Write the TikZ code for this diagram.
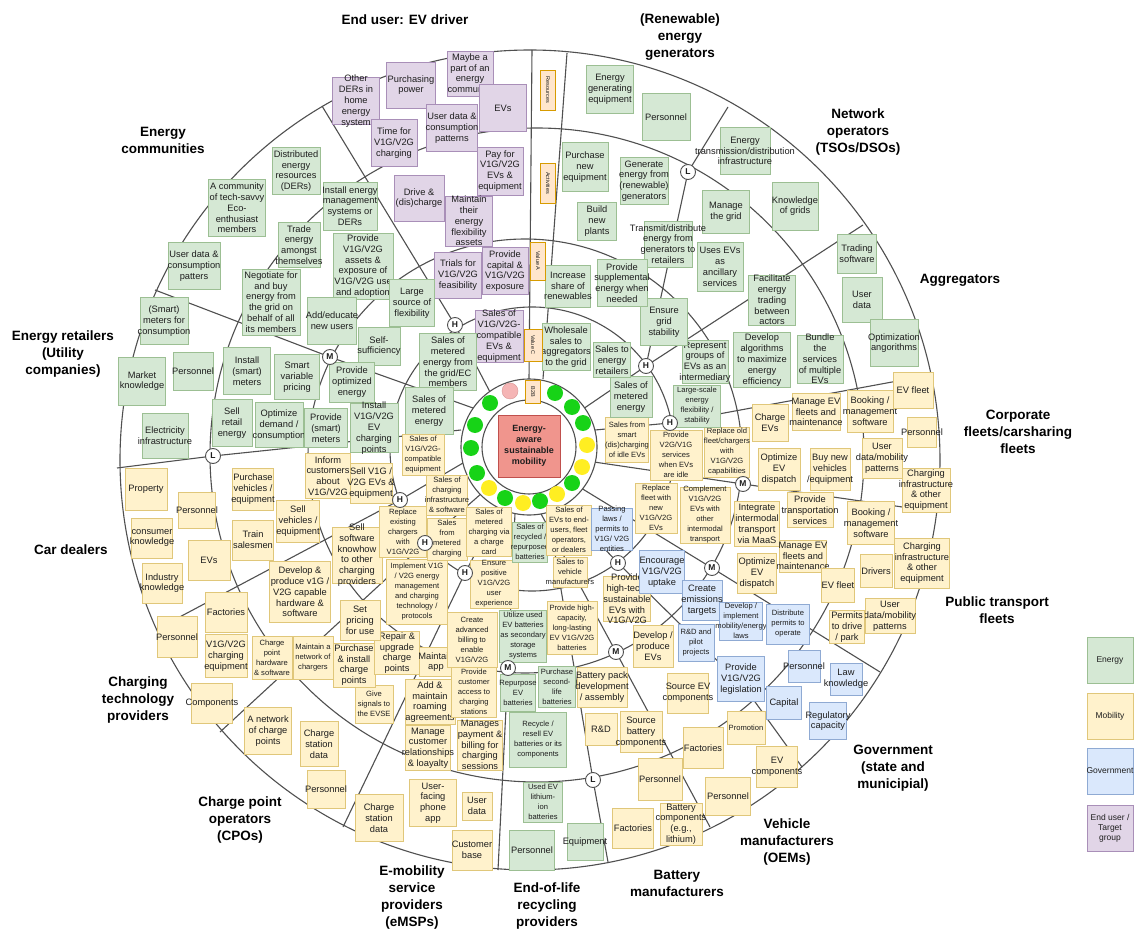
\documentclass[tikz,border=0pt]{standalone}
\usepackage{fontspec}
\setmainfont{Liberation Sans}
\usetikzlibrary{backgrounds}
\definecolor{gF}{HTML}{D5E8D4}\definecolor{gD}{HTML}{9CBF93}
\definecolor{yF}{HTML}{FFF2CC}\definecolor{yD}{HTML}{E0C77A}
\definecolor{bF}{HTML}{DAE8FC}\definecolor{bD}{HTML}{8FAAD3}
\definecolor{pF}{HTML}{E1D5E7}\definecolor{pD}{HTML}{A98FB8}
\definecolor{oF}{HTML}{FFE6CC}\definecolor{oD}{HTML}{D79B00}
\definecolor{rF}{HTML}{F0958D}\definecolor{rD}{HTML}{C0504D}
\definecolor{lnc}{HTML}{505050}\definecolor{txc}{HTML}{1E1E1E}
\definecolor{dG}{HTML}{17D317}\definecolor{dY}{HTML}{FFEE22}\definecolor{dP}{HTML}{F5B5B5}
\newcommand\txN{\fontsize{9.3}{10.8}\selectfont}
\newcommand\txS{\fontsize{7.6}{10}\selectfont}
\newcommand\snote[8]{\node[#1,minimum width=#6pt,minimum height=#7pt] (#3) at (#4,#5) {};\node[#2] (#3t) at (#3) {#8};}
\tikzset{
 gb/.style={draw=gD,fill=gF,line width=0.6pt,inner sep=0pt},
 yb/.style={draw=yD,fill=yF,line width=0.6pt,inner sep=0pt},
 bb/.style={draw=bD,fill=bF,line width=0.6pt,inner sep=0pt},
 pb/.style={draw=pD,fill=pF,line width=0.6pt,inner sep=0pt},
 tn/.style={align=center,inner sep=0pt,font=\txN,text=txc},
 ts/.style={align=center,inner sep=0pt,font=\txS,text=txc},
 lt/.style={align=center,inner sep=0pt,font=\fontsize{8.5}{10}\selectfont,text=txc},
 ringl/.style={draw=lnc,line width=1.1pt},
 mk/.style={circle,draw=lnc,fill=white,line width=0.9pt,minimum size=15pt,inner sep=0pt,font=\bfseries\fontsize{8.5}{8.5}\selectfont,text=txc},
 ttl/.style={align=center,font=\bfseries\fontsize{13.5}{17}\selectfont,text=black},
 dotc/.style={circle,minimum size=16pt,inner sep=0pt},
 wl/.style={draw=oD,fill=oF,line width=0.6pt,inner sep=0pt,minimum width=15pt},
 wlt/.style={rotate=-90,inner sep=0pt,font=\fontsize{5.5}{6}\selectfont,text=txc},
}
\begin{document}
\begin{tikzpicture}[x=1pt,y=-1pt]
\useasboundingbox (0,0) rectangle (1138,933);
% ---------- titles
\node[ttl] (tEU) at (405,20) {End user: EV driver};
\node[ttl] (tRG) at (680,37) {(Renewable)\\energy\\generators};
\node[ttl] (tNO) at (858,132) {Network\\operators\\(TSOs/DSOs)};
\node[ttl] (tAG) at (960,280) {Aggregators};
\node[ttl] (tCF) at (1018,432) {Corporate\\fleets/carsharing\\fleets};
\node[ttl] (tPT) at (997,610) {Public transport\\fleets};
\node[ttl] (tGV) at (893,768) {Government\\(state and\\municipial)};
\node[ttl] (tOEM) at (787,842) {Vehicle\\manufacturers\\(OEMs)};
\node[ttl] (tBM) at (677,883) {Battery\\manufacturers};
\node[ttl] (tEOL) at (547,906) {End-of-life\\recycling\\providers};
\node[ttl] (tEM) at (412,898) {E-mobility\\service\\providers\\(eMSPs)};
\node[ttl] (tCPO) at (240,820) {Charge point\\operators\\(CPOs)};
\node[ttl] (tCT) at (138,700) {Charging\\technology\\providers};
\node[ttl] (tCD) at (71,550) {Car dealers};
\node[ttl] (tER) at (63,354) {Energy retailers\\(Utility\\companies)};
\node[ttl] (tEC) at (163,140) {Energy\\communities};
% ---------- end user
\snote{pb}{tn}{euDER}{356}{101}{47}{47}{Other\\DERs in\\home\\energy\\system}
\snote{pb}{tn}{euPP}{411}{85}{49}{46}{Purchasing\\power}
\snote{pb}{tn}{euMay}{470}{74}{46}{45}{Maybe a\\part of an\\energy\\community}
\snote{pb}{tn}{euEV}{503}{108}{47}{47}{EVs}
\snote{pb}{tn}{euUD}{452}{128}{51}{47}{User data \&\\consumption\\patterns}
\snote{pb}{tn}{euTime}{394}{143}{46}{47}{Time for\\V1G/V2G\\charging}
\snote{pb}{tn}{euDrive}{419}{198}{50}{46}{Drive \&\\(dis)charge}
\snote{pb}{tn}{euPay}{500}{171}{46}{48}{Pay for\\V1G/V2G\\EVs \&\\equipment}
\snote{pb}{tn}{euMaint}{469}{221}{47}{50}{Maintain\\their\\energy\\flexibility\\assets}
\snote{pb}{tn}{euTrial}{458}{275}{47}{46}{Trials for\\V1G/V2G\\feasibility}
\snote{pb}{tn}{euCap}{505}{271}{46}{47}{Provide\\capital \&\\V1G/V2G\\exposure}
\snote{pb}{tn}{euSales}{499}{336}{48}{52}{Sales of\\V1G/V2G-\\compatible\\EVs \&\\equipment}
% ---------- energy communities
\snote{gb}{tn}{ecDER}{296}{171}{48}{47}{Distributed\\energy\\resources\\(DERs)}
\snote{gb}{tn}{ecComm}{237}{208}{57}{57}{A community\\of tech-savvy\\Eco-\\enthusiast\\members}
\snote{gb}{tn}{ecInst}{350}{206}{54}{48}{Install energy\\management\\systems or\\DERs}
\snote{gb}{tn}{ecTrade}{299}{245}{42}{45}{Trade\\energy\\amongst\\themselves}
\snote{gb}{tn}{ecProv}{363}{266}{60}{66}{Provide\\V1G/V2G\\assets \&\\exposure of\\V1G/V2G use\\and adoption}
\snote{gb}{tn}{ecUD}{194}{266}{52}{47}{User data \&\\consumption\\patters}
\snote{gb}{tn}{ecNeg}{271}{302}{58}{66}{Negotiate for\\and buy\\energy from\\the grid on\\behalf of all\\its members}
\snote{gb}{tn}{ecAdd}{332}{321}{49}{47}{Add/educate\\new users}
\snote{gb}{tn}{ecSelf}{379}{346}{42}{38}{Self-\\sufficiency}
\snote{gb}{tn}{ecLarge}{412}{303}{45}{47}{Large\\source of\\flexibility}
\snote{gb}{tn}{ecSales}{448}{362}{57}{57}{Sales of\\metered\\energy from\\the grid/EC\\members}
% ---------- energy retailers
\snote{gb}{tn}{erSM}{164}{321}{48}{47}{(Smart)\\meters for\\consumption}
\snote{gb}{tn}{erMK}{142}{381}{47}{48}{Market\\knowledge}
\snote{gb}{tn}{erPers}{193}{371}{40}{38}{Personnel}
\snote{gb}{tn}{erElec}{165}{436}{46}{45}{Electricity\\infrastructure}
\snote{gb}{tn}{erInst}{247}{371}{47}{47}{Install\\(smart)\\meters}
\snote{gb}{tn}{erSmart}{297}{377}{45}{45}{Smart\\variable\\pricing}
\snote{gb}{tn}{erSell}{232}{423}{40}{47}{Sell\\retail\\energy}
\snote{gb}{tn}{erOpt}{279}{425}{48}{45}{Optimize\\demand /\\consumption}
\snote{gb}{tn}{erPM}{326}{428}{43}{39}{Provide\\(smart)\\meters}
\snote{gb}{tn}{erPO}{352}{382}{45}{40}{Provide\\optimized\\energy}
\snote{gb}{tn}{erIV}{374}{428}{48}{49}{Install\\V1G/V2G\\EV\\charging\\points}
\snote{gb}{tn}{erSales}{429}{411}{48}{47}{Sales of\\metered\\energy}
% ---------- car dealers
\snote{yb}{tn}{cdProp}{146}{489}{42}{42}{Property}
\snote{yb}{tn}{cdPers}{197}{510}{37}{36}{Personnel}
\snote{yb}{tn}{cdCons}{152}{538}{41}{40}{consumer\\knowledge}
\snote{yb}{tn}{cdEV}{209}{560}{42}{40}{EVs}
\snote{yb}{tn}{cdInd}{162}{583}{40}{40}{Industry\\knowledge}
\snote{yb}{tn}{cdPur}{253}{489}{41}{42}{Purchase\\vehicles /\\equipment}
\snote{yb}{tn}{cdSell}{298}{521}{43}{42}{Sell\\vehicles /\\equipment}
\snote{yb}{tn}{cdTrain}{253}{540}{41}{40}{Train\\salesmen}
\snote{yb}{tn}{cdInf}{328}{476}{45}{45}{Inform\\customers\\about\\V1G/V2G}
\snote{yb}{tn}{cdSV}{371}{483}{42}{40}{Sell V1G /\\V2G EVs \&\\equipment}
\snote{yb}{ts}{cdSC}{423}{455}{42}{41}{Sales of\\V1G/V2G-\\compatible\\equipment}
% ---------- charging technology providers
\snote{yb}{tn}{ctFac}{226}{612}{42}{40}{Factories}
\snote{yb}{tn}{ctPers}{177}{637}{40}{41}{Personnel}
\snote{yb}{tn}{ctEq}{226}{656}{42}{43}{V1G/V2G\\charging\\equipment}
\snote{yb}{tn}{ctComp}{212}{703}{41}{40}{Components}
\snote{yb}{tn}{ctDev}{300}{592}{61}{61}{Develop \&\\produce v1G /\\V2G capable\\hardware \&\\software}
\snote{yb}{ts}{ctCPH}{272}{658}{40}{43}{Charge\\point\\hardware\\\& software}
\snote{yb}{ts}{ctMN}{313}{658}{40}{43}{Maintain a\\network of\\chargers}
\snote{yb}{tn}{ctSSW}{357}{555}{50}{56}{Sell\\software\\knowhow\\to other\\charging\\providers}
\snote{yb}{ts}{ctRep}{403}{532}{47}{51}{Replace\\existing\\chargers\\with\\V1G/V2G}
\snote{yb}{ts}{ctSCI}{447}{495}{41}{40}{Sales of\\charging\\infrastructure\\\& software}
\snote{yb}{ts}{ctImp}{417}{592}{61}{65}{Implement V1G\\/ V2G energy\\management\\and charging\\technology /\\protocols}
% ---------- charge point operators
\snote{yb}{tn}{cpNet}{268}{731}{47}{47}{A network\\of charge\\points}
\snote{yb}{tn}{cpCSD}{319}{744}{38}{45}{Charge\\station\\data}
\snote{yb}{tn}{cpPers}{326}{789}{38}{38}{Personnel}
\snote{yb}{ts}{cpGive}{374}{704}{38}{38}{Give\\signals to\\the EVSE}
\snote{yb}{tn}{cpPur}{354}{665}{42}{44}{Purchase\\\& install\\charge\\points}
\snote{yb}{tn}{cpRep}{397}{653}{45}{43}{Repair \&\\upgrade\\charge\\points}
\snote{yb}{tn}{cpSet}{360}{620}{40}{40}{Set\\pricing\\for use}
\snote{yb}{ts}{cpSM}{447}{539}{40}{42}{Sales\\from\\metered\\charging}
% ---------- eMSPs
\snote{yb}{tn}{emCSD}{379}{818}{48}{47}{Charge\\station\\data}
\snote{yb}{tn}{emApp}{433}{803}{47}{47}{User-\\facing\\phone\\app}
\snote{yb}{tn}{emUD}{477}{806}{30}{28}{User\\data}
\snote{yb}{tn}{emCB}{472}{850}{40}{40}{Customer\\base}
\snote{yb}{tn}{emMA}{436}{662}{33}{29}{Maintain\\app}
\snote{yb}{tn}{emAdd}{430}{702}{50}{45}{Add \&\\maintain\\roaming\\agreements}
\snote{yb}{tn}{emMan}{428}{748}{45}{45}{Manage\\customer\\relationships\\\& loayalty}
\snote{yb}{ts}{emCre}{472}{640}{50}{55}{Create\\advanced\\billing to\\enable\\V1G/V2G}
\snote{yb}{ts}{emProv}{474}{692}{45}{50}{Provide\\customer\\access to\\charging\\stations}
\snote{yb}{tn}{emPay}{480}{745}{45}{50}{Manages\\payment \&\\billing for\\charging\\sessions}
\snote{yb}{ts}{emEns}{494}{584}{48}{48}{Ensure\\positive\\V1G/V2G\\user\\experience}
\snote{yb}{ts}{emSCC}{489}{532}{45}{49}{Sales of\\metered\\charging via\\a charge\\card}
% ---------- end-of-life
\snote{gb}{ts}{eoUt}{523}{636}{47}{52}{Utilize used\\EV batteries\\as secondary\\storage\\systems}
\snote{gb}{ts}{eoRep}{518}{693}{35}{37}{Repurpose\\EV\\batteries}
\snote{gb}{ts}{eoPur}{557}{687}{37}{41}{Purchase\\second-\\life\\batteries}
\snote{gb}{ts}{eoRec}{538}{740}{57}{55}{Recycle /\\resell EV\\batteries or its\\components}
\snote{gb}{ts}{eoUsed}{543}{802}{39}{40}{Used EV\\lithium-\\ion\\batteries}
\snote{gb}{tn}{eoPers}{532}{850}{45}{40}{Personnel}
\snote{gb}{tn}{eoEq}{585}{842}{36}{37}{Equipment}
\snote{gb}{ts}{eoSales}{530}{542}{35}{40}{Sales of\\recycled /\\repurposed\\batteries}
% ---------- battery manufacturers
\snote{yb}{ts}{bmProv}{572}{628}{50}{53}{Provide high-\\capacity,\\long-lasting\\EV V1G/V2G\\batteries}
\snote{yb}{tn}{bmPack}{602}{687}{50}{40}{Battery pack\\development\\/ assembly}
\snote{yb}{tn}{bmRD}{601}{729}{32}{32}{R\&D}
\snote{yb}{tn}{bmSrc}{641}{732}{42}{41}{Source\\battery\\components}
\snote{yb}{tn}{bmPers}{660}{779}{44}{42}{Personnel}
\snote{yb}{tn}{bmFac}{633}{828}{41}{40}{Factories}
\snote{yb}{tn}{bmComp}{681}{824}{42}{42}{Battery\\components\\(e.g.,\\lithium)}
\snote{yb}{ts}{bmSVM}{570}{572}{34}{30}{Sales to\\vehicle\\manufacturers}
% ---------- OEMs
\snote{yb}{ts}{oeSEV}{569}{530}{45}{50}{Sales of\\EVs to end-\\users, fleet\\operators,\\or dealers}
\snote{yb}{tn}{oeProv}{627}{599}{47}{45}{Provide\\high-tech,\\sustainable\\EVs with\\V1G/V2G}
\snote{yb}{tn}{oeDev}{653}{646}{40}{42}{Develop /\\produce\\EVs}
\snote{yb}{tn}{oeSrc}{688}{693}{41}{40}{Source EV\\components}
\snote{yb}{tn}{oeFac}{703}{748}{40}{41}{Factories}
\snote{yb}{tn}{oePers}{728}{796}{45}{38}{Personnel}
\snote{yb}{tn}{oeComp}{777}{767}{41}{41}{EV\\components}
\snote{yb}{ts}{oePro}{746}{728}{38}{33}{Promotion}
% ---------- government
\snote{bb}{ts}{gvPass}{612}{529}{41}{42}{Passing\\laws /\\permits to\\V1G/ V2G\\entities}
\snote{bb}{ts}{gvRD}{696}{643}{36}{37}{R\&D and\\pilot\\projects}
\snote{bb}{tn}{gvEnc}{662}{572}{45}{43}{Encourage\\V1G/V2G\\uptake}
\snote{bb}{tn}{gvCre}{702}{600}{40}{40}{Create\\emissions\\targets}
\snote{bb}{ts}{gvDev}{741}{621}{43}{38}{Develop /\\implement\\mobility/energy\\laws}
\snote{bb}{ts}{gvDist}{788}{624}{43}{40}{Distribute\\permits to\\operate}
\snote{bb}{tn}{gvProv}{741}{679}{47}{45}{Provide\\V1G/V2G\\legislation}
\snote{bb}{tn}{gvPers}{804}{666}{32}{32}{Personnel}
\snote{bb}{tn}{gvLaw}{846}{679}{32}{32}{Law\\knowledge}
\snote{bb}{tn}{gvCap}{784}{703}{35}{33}{Capital}
\snote{bb}{tn}{gvReg}{828}{721}{37}{37}{Regulatory\\capacity}
% ---------- public transport fleets
\snote{yb}{ts}{ptRep}{656}{508}{42}{50}{Replace\\fleet with\\new\\V1G/V2G\\EVs}
\snote{yb}{ts}{ptCom}{705}{515}{50}{56}{Complement\\V1G/V2G\\EVs with\\other\\intermodal\\transport}
\snote{yb}{tn}{ptInt}{757}{524}{45}{45}{Integrate\\intermodal\\transport\\via MaaS}
\snote{yb}{tn}{ptProv}{810}{510}{46}{35}{Provide\\transportation\\services}
\snote{yb}{tn}{ptMan}{803}{556}{47}{32}{Manage EV\\fleets and\\maintenance}
\snote{yb}{tn}{ptOpt}{757}{573}{39}{40}{Optimize\\EV\\dispatch}
\snote{yb}{tn}{ptBook}{871}{523}{47}{43}{Booking /\\management\\software}
\snote{yb}{tn}{ptFleet}{838}{585}{33}{34}{EV fleet}
\snote{yb}{tn}{ptDrv}{876}{571}{32}{33}{Drivers}
\snote{yb}{tn}{ptChg}{922}{563}{55}{50}{Charging\\infrastructure\\\& other\\equipment}
\snote{yb}{tn}{ptUD}{890}{616}{50}{35}{User\\data/mobility\\patterns}
\snote{yb}{tn}{ptPerm}{847}{627}{35}{33}{Permits\\to drive\\/ park}
% ---------- corporate fleets
\snote{yb}{ts}{cfSS}{627}{440}{43}{45}{Sales from\\smart\\(dis)charging\\of idle EVs}
\snote{yb}{ts}{cfProv}{676}{455}{52}{50}{Provide\\V2G/V1G\\services\\when EVs\\are idle}
\snote{yb}{ts}{cfRep}{727}{452}{45}{50}{Replace old\\fleet/chargers\\with\\V1G/V2G\\capabilities}
\snote{yb}{tn}{cfChg}{770}{423}{36}{37}{Charge\\EVs}
\snote{yb}{tn}{cfMan}{816}{412}{48}{37}{Manage EV\\fleets and\\maintenance}
\snote{yb}{tn}{cfBook}{870}{411}{46}{42}{Booking /\\management\\software}
\snote{yb}{tn}{cfFleet}{913}{390}{40}{36}{EV fleet}
\snote{yb}{tn}{cfPers}{922}{432}{29}{30}{Personnel}
\snote{yb}{tn}{cfOpt}{779}{469}{42}{42}{Optimize\\EV\\dispatch}
\snote{yb}{tn}{cfBuy}{830}{469}{40}{42}{Buy new\\vehicles\\/equipment}
\snote{yb}{tn}{cfUD}{882}{458}{40}{40}{User\\data/mobility\\patterns}
\snote{yb}{tn}{cfChI}{926}{490}{48}{44}{Charging\\infrastructure\\\& other\\equipment}
% ---------- aggregators
\snote{gb}{tn}{agTr}{857}{254}{39}{39}{Trading\\software}
\snote{gb}{tn}{agUD}{862}{300}{40}{45}{User\\data}
\snote{gb}{tn}{agOpt}{894}{343}{48}{47}{Optimization\\angorithms}
\snote{gb}{tn}{agFac}{772}{300}{47}{50}{Facilitate\\energy\\trading\\between\\actors}
\snote{gb}{tn}{agDev}{762}{360}{57}{55}{Develop\\algorithms\\to maximize\\energy\\efficiency}
\snote{gb}{tn}{agBun}{820}{359}{46}{48}{Bundle\\the\\services\\of multiple\\EVs}
\snote{gb}{tn}{agRep}{705}{362}{46}{43}{Represent\\groups of\\EVs as an\\intermediary}
\snote{gb}{ts}{agLS}{697}{406}{47}{42}{Large-scale\\energy\\flexibility /\\stability}
\snote{gb}{tn}{agSales}{631}{397}{42}{41}{Sales of\\metered\\energy}
% ---------- network operators
\snote{gb}{tn}{noInf}{745}{151}{50}{47}{Energy\\transmission/distribution\\infrastructure}
\snote{gb}{tn}{noKn}{795}{206}{46}{48}{Knowledge\\of grids}
\snote{gb}{tn}{noMan}{726}{212}{47}{43}{Manage\\the grid}
\snote{gb}{tn}{noTr}{668}{244}{48}{46}{Transmit/distribute\\energy from\\generators to\\retailers}
\snote{gb}{tn}{noUse}{720}{267}{46}{49}{Uses EVs\\as\\ancillary\\services}
\snote{gb}{tn}{noEns}{664}{322}{47}{47}{Ensure\\grid\\stability}
% ---------- renewable generators
\snote{gb}{tn}{rgEq}{610}{89}{47}{48}{Energy\\generating\\equipment}
\snote{gb}{tn}{rgPers}{666}{117}{48}{47}{Personnel}
\snote{gb}{tn}{rgPur}{585}{167}{46}{49}{Purchase\\new\\equipment}
\snote{gb}{tn}{rgGen}{644}{181}{48}{47}{Generate\\energy from\\(renewable)\\generators}
\snote{gb}{tn}{rgBld}{597}{221}{39}{38}{Build\\new\\plants}
\snote{gb}{tn}{rgInc}{568}{286}{45}{42}{Increase\\share of\\renewables}
\snote{gb}{tn}{rgSup}{622}{283}{50}{47}{Provide\\supplemental\\energy when\\needed}
\snote{gb}{tn}{rgWh}{566}{347}{48}{47}{Wholesale\\sales to\\aggregators\\to the grid}
\snote{gb}{tn}{rgSER}{612}{360}{37}{35}{Sales to\\energy\\retailers}
% ---------- row labels wedge
\node[wl,minimum height=40pt] (wRes) at (548,90) {};\node[wlt] at (wRes) {Resources};
\node[wl,minimum height=40pt] (wAct) at (548,183) {};\node[wlt] at (wAct) {Activities};
\node[wl,minimum height=38pt] (wVA) at (538,261) {};\node[wlt] at (wVA) {Value A};
\node[wl,minimum height=32pt,minimum width=18pt] (wVC) at (533,345) {};\node[wlt] at (wVC) {Value C};
\node[wl,minimum height=23pt] (wB2B) at (533,392) {};\node[wlt] at (wB2B) {B2B};
% ---------- core
\node[dotc,fill=dG] (dt1) at (555,393) {};
\node[dotc,fill=dG] (dt2) at (572,407) {};
\node[dotc,fill=dG] (dt3) at (583,423) {};
\node[dotc,fill=dY] (dt4) at (587,445) {};
\node[dotc,fill=dY] (dt5) at (582,467) {};
\node[dotc,fill=dG] (dt6) at (572,483) {};
\node[dotc,fill=dY] (dt7) at (557,494) {};
\node[dotc,fill=dG] (dt8) at (540,501) {};
\node[dotc,fill=dY] (dt9) at (523,503) {};
\node[dotc,fill=dG] (dt10) at (505,498) {};
\node[dotc,fill=dY] (dt11) at (489,488) {};
\node[dotc,fill=dG] (dt12) at (477,473) {};
\node[dotc,fill=dG] (dt13) at (471,448) {};
\node[dotc,fill=dG] (dt14) at (475,425) {};
\node[dotc,fill=dG] (dt15) at (490,403) {};
\node[dotc,fill=dP,draw=rD!60,line width=0.4pt] (dt16) at (510,391) {};
\node[draw=rD,fill=rF,line width=0.6pt,minimum width=62pt,minimum height=62pt,inner sep=0pt] (core) at (529,446) {};
\node[align=center,inner sep=0pt,font=\bfseries\fontsize{9}{10.8}\selectfont,text=txc] (coret) at (core) {Energy-\\aware\\sustainable\\mobility};
% ---------- markers
\node[mk] (h1) at (455,325) {H};
\node[mk] (h2) at (646,366) {H};
\node[mk] (h3) at (670,423) {H};
\node[mk] (h4) at (400,500) {H};
\node[mk] (h5) at (425,543) {H};
\node[mk] (h6) at (465,573) {H};
\node[mk] (h7) at (618,563) {H};
\node[mk] (m1) at (330,357) {M};
\node[mk] (m2) at (743,484) {M};
\node[mk] (m3) at (712,568) {M};
\node[mk] (m4) at (616,652) {M};
\node[mk] (m5) at (508,668) {M};
\node[mk] (l1) at (688,172) {L};
\node[mk] (l2) at (213,456) {L};
\node[mk] (l3) at (593,780) {L};
% ---------- legend
\snote{gb}{lt}{lgE}{1110}{660}{46}{46}{Energy}
\snote{yb}{lt}{lgM}{1110}{716}{46}{46}{Mobility}
\snote{bb}{lt}{lgG}{1110}{771}{46}{46}{Government}
\snote{pb}{lt}{lgP}{1110}{828}{46}{46}{End user /\\Target\\group}
% ---------- rings and dividers
\begin{pgfonlayer}{background}
\fill[white] (0,0) rectangle (1138,933);
\coordinate (cO) at (530,460);
\coordinate (cL) at (537,455);
\coordinate (cM) at (525,456);
\coordinate (cH) at (532,449);
\coordinate (cD) at (529,447);
\draw[ringl] (cO) circle[radius=410pt];
\draw[ringl] (cL) circle[radius=327pt];
\draw[ringl] (cM) circle[radius=217pt];
\draw[ringl] (cH) circle[radius=142pt];
\coordinate (d1o) at (322,106); \coordinate (d1i) at (490,392);
\coordinate (d2o) at (532,50);  \coordinate (d2i) at (529,379);
\coordinate (d3o) at (567,53);  \coordinate (d3i) at (543,379);
\coordinate (d4o) at (728,107); \coordinate (d4i) at (583,409);
\coordinate (d5o) at (863,225);
\coordinate (d6o) at (930,375); \coordinate (d6i) at (595,430);
\coordinate (d7o) at (937,512); \coordinate (d7i) at (594,462);
\coordinate (d8o) at (880,672); \coordinate (d8i) at (581,488);
\coordinate (d9o) at (802,767); \coordinate (d9b) at (745,688); \coordinate (d9i) at (563,505);
\coordinate (d10o) at (710,827); \coordinate (d10i) at (540,512);
\coordinate (d11o) at (608,862); \coordinate (d11i) at (548,512);
\coordinate (d12o) at (498,870); \coordinate (d12i) at (515,513);
\coordinate (d13o) at (343,827); \coordinate (d13i) at (500,507);
\coordinate (d14o) at (220,732); \coordinate (d14i) at (482,493);
\coordinate (d15o) at (157,629); \coordinate (d15i) at (463,463);
\coordinate (d16o) at (117,468); \coordinate (d16i) at (461,430);
\coordinate (d17o) at (155,290); \coordinate (d17i) at (473,408);
\draw[ringl] (d1o) -- (h1.center) -- (d1i);
\draw[ringl] (d2o) -- (d2i);
\draw[ringl] (d3o) -- (d3i);
\draw[ringl] (d4o) -- (l1.center) -- (h2.center) -- (d4i);
\draw[ringl] (d5o) -- (h2.center);
\draw[ringl] (d6o) -- (h3.center) -- (d6i);
\draw[ringl] (d7o) -- (m2.center) -- (d7i);
\draw[ringl] (d8o) -- (m3.center) -- (d8i);
\draw[ringl] (d9o) -- (d9b) -- (h7.center) -- (d9i);
\draw[ringl] (d10o) -- (m4.center) -- (d10i);
\draw[ringl] (d11o) -- (l3.center) -- (d11i);
\draw[ringl] (d12o) -- (m5.center) -- (d12i);
\draw[ringl] (d13o) -- (h6.center) -- (d13i);
\draw[ringl] (d14o) -- (h5.center) -- (d14i);
\draw[ringl] (d15o) -- (h4.center) -- (d15i);
\draw[ringl] (d16o) -- (l2.center) -- (d16i);
\draw[ringl] (d17o) -- (m1.center) -- (d17i);
\fill[white] (cD) circle[radius=68pt];
\draw[ringl] (cD) circle[radius=68pt];
\draw[ringl] (cD) circle[radius=47pt];
\end{pgfonlayer}
\end{tikzpicture}
\end{document}
